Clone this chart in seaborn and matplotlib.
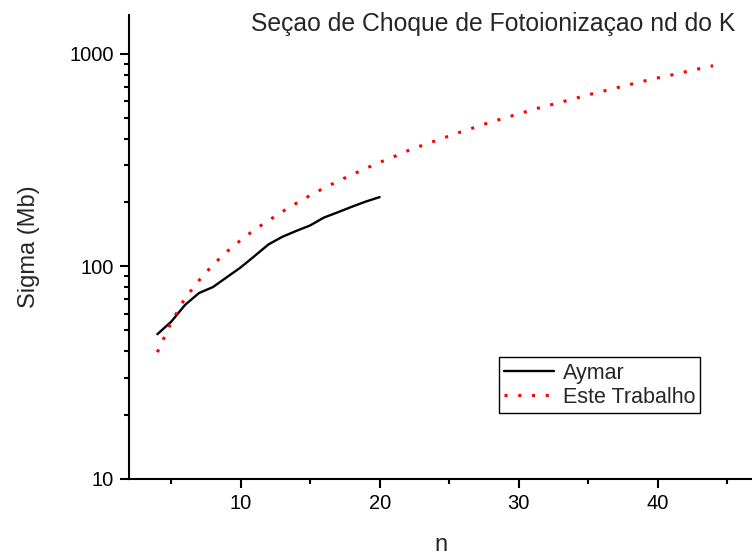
import matplotlib
matplotlib.use("Agg")
import matplotlib.pyplot as plt
import matplotlib.ticker as mticker
from matplotlib.lines import Line2D
import numpy as np
import pandas as pd
import seaborn as sns

# Photoionization cross sections (Mb) of the nd states of K
n_aymar = [4, 5, 6, 7, 8, 9, 10, 11, 12, 13, 14, 15, 16, 17, 18, 19, 20]
sigma_aymar = [48, 55, 66, 75, 80, 89, 99, 112, 127, 138, 147, 156, 170,
               180, 191, 202, 212]

n_este = list(range(4, 45))
sigma_este = [39.5, 54.5, 71, 86, 101.8, 117.3, 133, 149, 164.4, 181.3,
              198.3, 215.9, 234, 252, 270.3, 289.2, 309, 328, 350, 370,
              390, 411, 433, 455, 478, 500, 522, 547, 569, 592, 616, 642,
              666, 692, 718, 745, 771, 796, 824, 852, 880]

label_aymar = "Aymar"
label_este = "Este Trabalho"
title = "Seçao de Choque de Fotoionizaçao nd do K"

df = pd.concat([
    pd.DataFrame({"n": n_aymar, "sigma": sigma_aymar, "fonte": label_aymar}),
    pd.DataFrame({"n": n_este, "sigma": sigma_este, "fonte": label_este}),
], ignore_index=True)

sns.set_style("ticks")
plt.rcParams["font.family"] = ["Liberation Sans", "DejaVu Sans"]

dot_pattern = (1, 3.5)

fig = plt.figure(figsize=(7.52, 5.58), dpi=100)
ax = fig.add_axes([129 / 752, 79 / 558, 623 / 752, 464 / 558])

sns.lineplot(data=df, x="n", y="sigma", hue="fonte", style="fonte",
             palette={label_aymar: "black", label_este: "red"},
             dashes={label_aymar: "", label_este: dot_pattern},
             ax=ax, legend=False, estimator=None, sort=False)

lines = ax.get_lines()
lines[0].set_linewidth(1.7)
lines[1].set_linewidth(2.2)

ax.set_yscale("log")
ax.set_xlim(1.96, 46.8)
ax.set_ylim(10, 1525)

ax.xaxis.set_major_locator(mticker.MultipleLocator(10))
ax.xaxis.set_minor_locator(mticker.MultipleLocator(5))
ax.yaxis.set_major_locator(mticker.LogLocator(base=10))
ax.yaxis.set_minor_locator(mticker.LogLocator(base=10, subs=np.arange(2, 10)))
ax.yaxis.set_major_formatter(mticker.FuncFormatter(lambda v, p: f"{v:g}"))
ax.yaxis.set_minor_formatter(mticker.NullFormatter())

ax.tick_params(axis="both", which="major", direction="out", length=6.5,
               width=1.5, labelsize=14.5, pad=4.5, color="black",
               labelcolor="black")
ax.tick_params(axis="both", which="minor", direction="out", length=3.6,
               width=1.5, color="black")

for side in ("top", "right"):
    ax.spines[side].set_visible(False)
for side in ("left", "bottom"):
    ax.spines[side].set_linewidth(1.5)
    ax.spines[side].set_color("black")

ax.set_xlabel("n", fontsize=17, labelpad=15)
ax.set_ylabel("Sigma (Mb)", fontsize=17, labelpad=21)

ax.text(0.9727, (479 - 31) / 464, title, transform=ax.transAxes, ha="right",
        va="baseline", fontsize=17.8)

handles = [
    Line2D([], [], color="black", lw=1.7),
    Line2D([], [], color="red", lw=2.2, linestyle=(0, dot_pattern)),
]
leg = ax.legend(handles, [label_aymar, label_este], loc="lower left",
                bbox_to_anchor=(0.594, 0.142), borderaxespad=0,
                fontsize=15.5, frameon=True, fancybox=False, framealpha=1,
                edgecolor="black", handlelength=2.3, handletextpad=0.4,
                borderpad=0.25, labelspacing=0.15)
leg.get_frame().set_linewidth(1.0)

fig.savefig("out.png", dpi=100)
